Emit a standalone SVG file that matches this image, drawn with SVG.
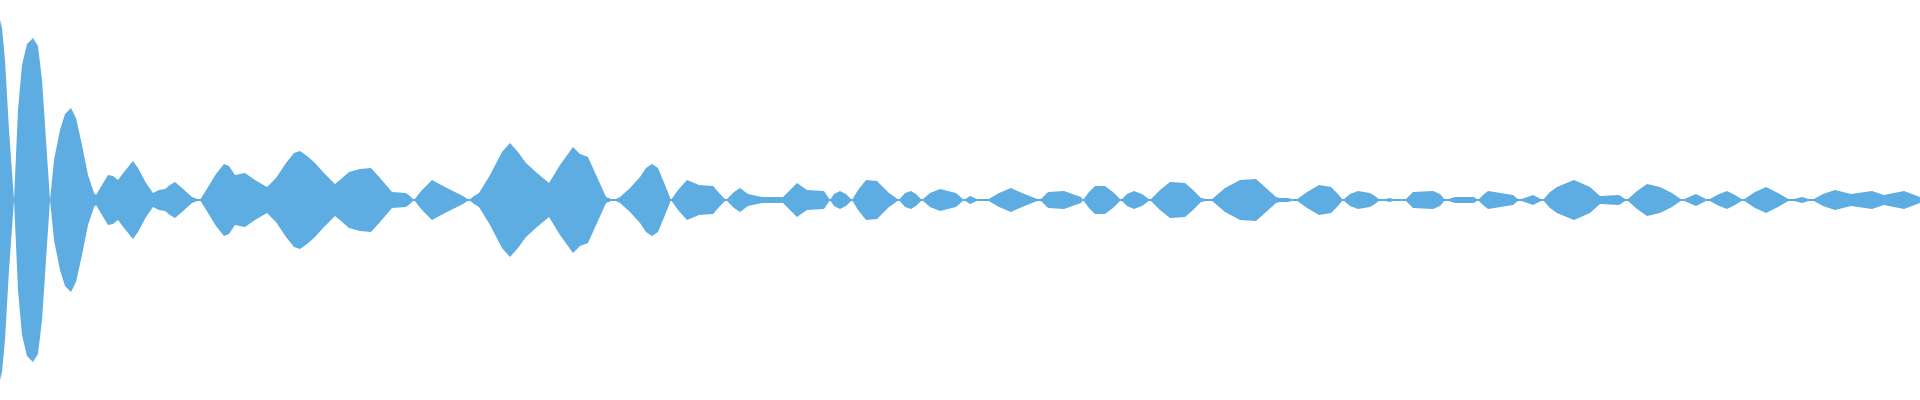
<svg xmlns="http://www.w3.org/2000/svg" width="1920" height="400" viewBox="0 0 1920 400">
<defs>
<path id="half" d="M0,200 L0,20 L2,28 L5,60 L9,130 L14,200 L18,110 L22,65 L27,44 L33,38 L38,46 L42,80 L46,140 L50,200 L54,160 L60,130 L65,114 L71,108 L76,118 L82,145 L88,175 L94,193 L96,195 L102,185 L108,175 L113,176 L118,180 L124,172 L133,161 L138,168 L146,183 L153,193 L159,190 L165,189 L170,185 L175,182 L182,188 L192,197 L200,200 L208,187 L216,174 L224,164 L229,166 L235,175 L240,174 L245,173 L255,180 L267,187 L276,178 L286,163 L294,153 L300,151 L307,156 L314,162 L324,173 L335,184 L341,179 L349,172 L360,169 L371,168 L380,178 L392,192 L406,193 L410,196 L414,200 L422,190 L432,180 L445,187 L457,193 L463,196 L469,200 L474,196 L479,193 L490,175 L502,152 L510,143 L518,152 L526,163 L537,173 L549,183 L560,165 L573,147 L580,154 L588,157 L597,177 L606,197 L614,200 L620,197 L630,188 L640,177 L646,168 L652,164 L658,168 L665,185 L671,200 L678,190 L687,180 L699,185 L713,186 L720,194 L726,200 L734,192 L740,188 L748,194 L762,197 L783,197 L790,190 L797,183 L807,190 L824,191 L830,200 L834,194 L840,191 L846,194 L852,200 L858,190 L866,180 L877,181 L889,193 L899,200 L905,193 L911,191 L916,194 L922,200 L930,193 L940,189 L956,193 L964,200 L970,196 L979,200 L987,200 L999,193 L1011,188 L1022,193 L1032,197 L1040,200 L1048,192 L1064,191 L1081,197 L1083,200 L1089,192 L1095,186 L1105,186 L1113,192 L1121,200 L1127,194 L1134,191 L1142,194 L1150,200 L1160,190 L1170,182 L1185,183 L1193,190 L1201,198 L1211,200 L1225,188 L1240,180 L1256,179 L1266,188 L1276,197 L1280,198 L1288,198 L1296,200 L1307,192 L1319,185 L1331,187 L1337,193 L1343,200 L1350,194 L1358,191 L1370,193 L1375,196 L1380,200 L1390,198 L1396,200 L1405,200 L1413,192 L1433,191 L1440,194 L1445,200 L1455,197 L1474,197 L1478,200 L1483,195 L1488,191 L1513,195 L1519,200 L1533,195 L1543,200 L1550,192 L1557,187 L1574,180 L1590,187 L1600,196 L1619,195 L1627,200 L1637,191 L1647,184 L1660,187 L1672,193 L1682,200 L1696,194 L1708,200 L1717,195 L1727,191 L1735,195 L1743,200 L1755,192 L1766,187 L1778,193 L1790,200 L1802,197 L1812,200 L1823,194 L1835,190 L1851,194 L1872,191 L1884,195 L1904,191 L1920,197 L1920,200 Z"/>
</defs>
<g fill="#5DADE2">
<use href="#half"/>
<use href="#half" transform="translate(0,400) scale(1,-1)"/>
<rect x="0" y="199" width="1920" height="2"/>
</g>
</svg>
